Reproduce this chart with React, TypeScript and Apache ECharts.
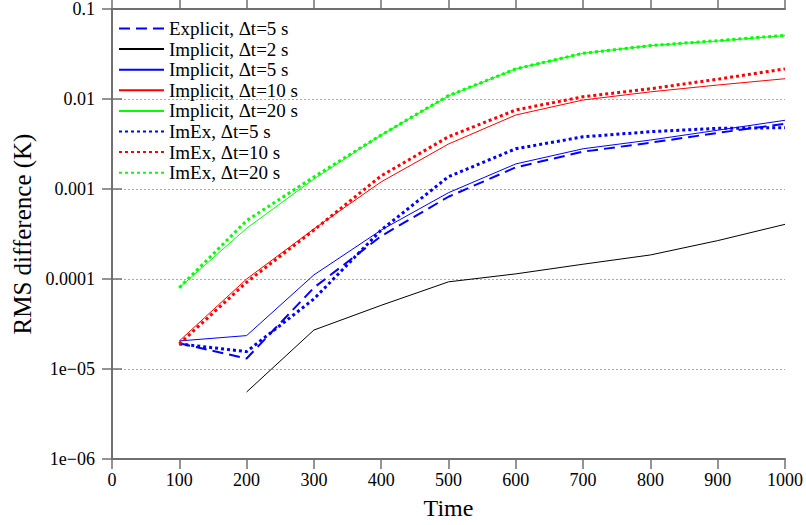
import React, { useEffect, useRef } from "react";
import * as echarts from "echarts";

const times = [100, 200, 300, 400, 500, 600, 700, 800, 900, 1000];
const explicit5 = [1.93e-5, 1.31e-5, 8.0e-5, 3.0e-4, 8.2e-4, 1.74e-3, 2.6e-3, 3.27e-3, 4.2e-3, 5.3e-3];
const implicit2 = [null, 5.55e-6, 2.71e-5, 5.1e-5, 9.3e-5, 1.14e-4, 1.46e-4, 1.85e-4, 2.67e-4, 4.05e-4];
const implicit5 = [2.05e-5, 2.35e-5, 1.11e-4, 3.5e-4, 9.1e-4, 1.9e-3, 2.8e-3, 3.5e-3, 4.5e-3, 5.8e-3];
const implicit10 = [2.05e-5, 1.0e-4, 3.6e-4, 1.2e-3, 3.16e-3, 6.64e-3, 9.75e-3, 1.2e-2, 1.43e-2, 1.68e-2];
const implicit20 = [8.0e-5, 3.66e-4, 1.29e-3, 3.98e-3, 1.08e-2, 2.16e-2, 3.22e-2, 3.92e-2, 4.41e-2, 5.06e-2];
const imex5 = [1.9e-5, 1.56e-5, 6.0e-5, 3.5e-4, 1.37e-3, 2.8e-3, 3.8e-3, 4.33e-3, 4.72e-3, 4.8e-3];
const imex10 = [1.9e-5, 9.2e-5, 3.5e-4, 1.4e-3, 3.81e-3, 7.55e-3, 1.06e-2, 1.3e-2, 1.66e-2, 2.16e-2];
const imex20 = [8.0e-5, 4.45e-4, 1.36e-3, 3.98e-3, 1.09e-2, 2.16e-2, 3.22e-2, 3.92e-2, 4.45e-2, 5.1e-2];

const yTickLabels: Record<string, string> = {
  "-6": "1e\u221206",
  "-5": "1e\u221205",
  "-4": "0.0001",
  "-3": "0.001",
  "-2": "0.01",
  "-1": "0.1",
};

const FONT = "Liberation Serif";

function pairs(vals: (number | null)[]) {
  return times.map((t, i) => [t, vals[i]]).filter((p) => p[1] !== null);
}

export default function App() {
  const ref = useRef<HTMLDivElement>(null);
  useEffect(() => {
    if (!ref.current) return;
    const chart = echarts.init(ref.current, null, { renderer: "svg" });
    const axisLine = { show: true, lineStyle: { color: "#707070", width: 2 } };
    const tickStyle = { show: true, length: 10, lineStyle: { color: "#707070", width: 1.5 } };
    const mk = (name: string, vals: (number | null)[], color: string, type: any, width: number) => ({
      name,
      type: "line",
      data: pairs(vals),
      symbol: "none",
      showSymbol: false,
      lineStyle: { color, type, width, cap: "butt" },
      itemStyle: { color },
      z: 3,
    });
    chart.setOption({
      animation: false,
      backgroundColor: "#fff",
      grid: { left: 112, right: 19, top: 9, bottom: 66 },
      legend: {
        orient: "vertical",
        left: 113,
        top: 14,
        itemWidth: 45,
        itemHeight: 14,
        itemGap: 1.6,
        itemStyle: { opacity: 0 },
        textStyle: { fontFamily: FONT, fontSize: 19, color: "#000" },
        data: [
          "Explicit, \u0394t=5 s",
          "Implicit, \u0394t=2 s",
          "Implicit, \u0394t=5 s",
          "Implicit, \u0394t=10 s",
          "Implicit, \u0394t=20 s",
          "ImEx, \u0394t=5 s",
          "ImEx, \u0394t=10 s",
          "ImEx, \u0394t=20 s",
        ],
      },
      xAxis: [
        {
          type: "value",
          min: 0,
          max: 1000,
          interval: 100,
          name: "Time",
          nameLocation: "middle",
          nameGap: 37,
          nameTextStyle: { fontFamily: FONT, fontSize: 24, color: "#000" },
          axisLine,
          axisTick: tickStyle,
          axisLabel: { fontFamily: FONT, fontSize: 18, color: "#000", margin: 12, formatter: (v: number) => String(v) },
          splitLine: { show: false },
        },
        {
          type: "value",
          position: "top",
          min: 0,
          max: 1000,
          interval: 100,
          axisLine,
          axisTick: tickStyle,
          axisLabel: { show: false },
          splitLine: { show: false },
        },
      ],
      yAxis: [
        {
          type: "log",
          logBase: 10,
          min: 1e-6,
          max: 0.1,
          name: "RMS difference (K)",
          nameLocation: "middle",
          nameGap: 74,
          nameTextStyle: { fontFamily: FONT, fontSize: 25, color: "#000" },
          axisLine,
          axisTick: tickStyle,
          minorTick: { show: false },
          axisLabel: {
            fontFamily: FONT,
            fontSize: 18,
            color: "#000",
            margin: 17,
            formatter: (v: number) => {
              const k = String(Math.round(Math.log10(v)));
              return yTickLabels[k] ?? "";
            },
          },
          splitLine: { show: true, lineStyle: { color: "#aaa", type: [2, 2], width: 1 } },
        },
        {
          type: "log",
          logBase: 10,
          min: 1e-6,
          max: 0.1,
          position: "right",
          axisLine,
          axisTick: tickStyle,
          axisLabel: { show: false },
          splitLine: { show: false },
        },
      ],
      series: [
        mk("Explicit, \u0394t=5 s", explicit5, "#0000ff", [11, 6], 2),
        mk("Implicit, \u0394t=2 s", implicit2, "#000000", "solid", 1),
        mk("Implicit, \u0394t=5 s", implicit5, "#0000ff", "solid", 1),
        mk("Implicit, \u0394t=10 s", implicit10, "#ff0000", "solid", 1),
        mk("Implicit, \u0394t=20 s", implicit20, "#00ff00", "solid", 1),
        mk("ImEx, \u0394t=5 s", imex5, "#0000ff", [3, 3], 3),
        mk("ImEx, \u0394t=10 s", imex10, "#ff0000", [3, 3], 3),
        mk("ImEx, \u0394t=20 s", imex20, "#00ff00", [3, 3], 3),
      ],
    });
    return () => chart.dispose();
  }, []);
  return <div ref={ref} style={{ width: 806, height: 525, position: "absolute", left: 0, top: 0 }} />;
}
